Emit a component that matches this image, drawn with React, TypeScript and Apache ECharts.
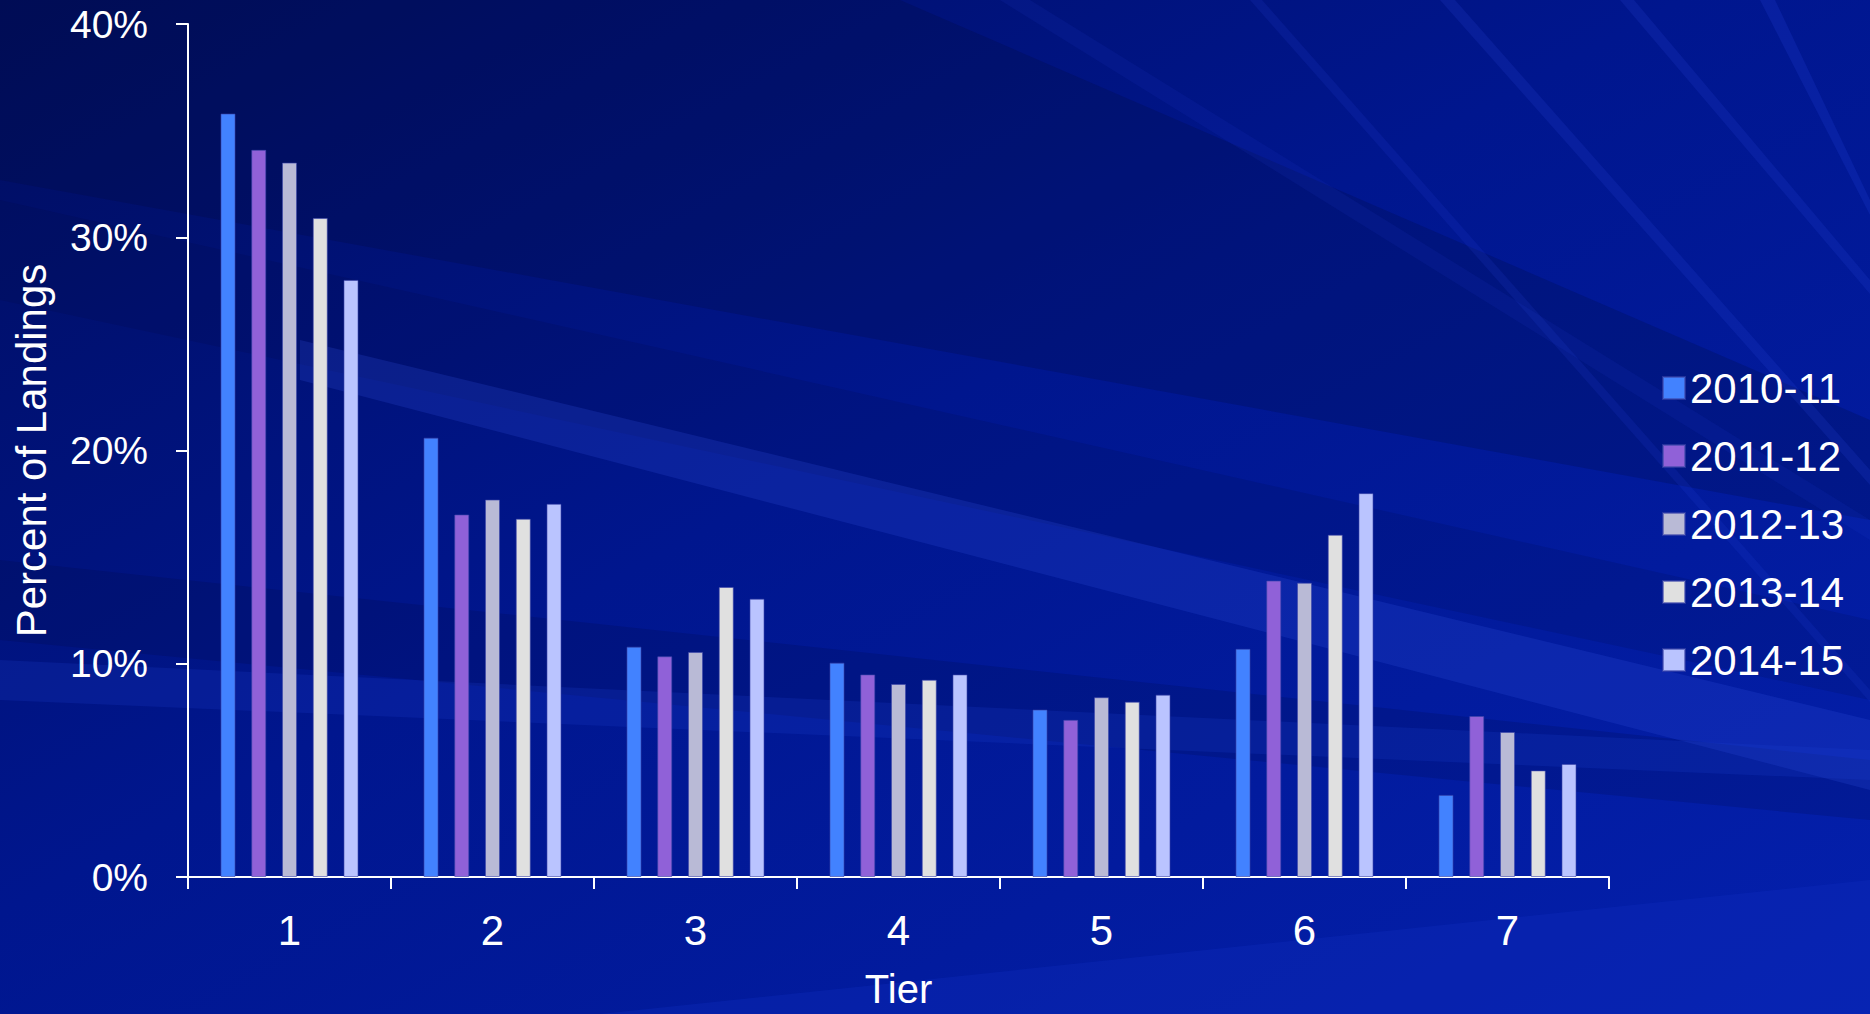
import React, { useEffect, useRef } from "react";
import * as echarts from "echarts";

const tiers = ["1", "2", "3", "4", "5", "6", "7"];
const seasons = ["2010-11", "2011-12", "2012-13", "2013-14", "2014-15"];
const colors = ["#4282FF", "#9061D8", "#B9BAD6", "#E0E0E0", "#BAC4FF"];
const v2010_11 = [35.8, 20.6, 10.8, 10.05, 7.85, 10.7, 3.85];
const v2011_12 = [34.1, 17.0, 10.35, 9.5, 7.37, 13.9, 7.55];
const v2012_13 = [33.5, 17.7, 10.55, 9.05, 8.43, 13.8, 6.8];
const v2013_14 = [30.9, 16.8, 13.6, 9.25, 8.22, 16.05, 5.0];
const v2014_15 = [28.0, 17.5, 13.05, 9.5, 8.55, 18.0, 5.3];
const seriesValues = [v2010_11, v2011_12, v2012_13, v2013_14, v2014_15];
const yTicks = [0, 10, 20, 30, 40];

const FONT = "Liberation Sans, Arial, sans-serif";

function band(points: number[][], fill: string, opacity: number) {
  return {
    type: "polygon",
    z: -10,
    silent: true,
    shape: { points },
    style: { fill, opacity },
  };
}

export default function App() {
  const ref = useRef<HTMLDivElement>(null);
  useEffect(() => {
    if (!ref.current) return;
    const chart = echarts.init(ref.current, undefined, { renderer: "svg" });
    const bg = [
      band([[0, 0], [900, 0], [1870, 420], [1870, 520], [0, 180]], "#000830", 0.2),
      band([[0, 200], [0, 300], [1870, 700], [1870, 620]], "#000830", 0.12),
      band([[0, 560], [0, 640], [1870, 820], [1870, 760]], "#000830", 0.15),
      band([[300, 340], [1870, 720], [1870, 790], [300, 380]], "#3050E0", 0.22),
      band([[0, 660], [0, 700], [1870, 780], [1870, 750]], "#2040D0", 0.2),
      band([[600, 1014], [1870, 880], [1870, 1014]], "#1030C0", 0.3),
      band([[1440, 0], [1455, 0], [1870, 470], [1870, 485]], "#2A48E0", 0.18),
      band([[1250, 0], [1262, 0], [1870, 690], [1870, 702]], "#2A48E0", 0.14),
      band([[1620, 0], [1634, 0], [1870, 280], [1870, 294]], "#2A48E0", 0.18),
      band([[1000, 0], [1030, 0], [1870, 520], [1870, 540]], "#2A48E0", 0.1),
      band([[1760, 0], [1775, 0], [1870, 200], [1870, 215]], "#2A48E0", 0.2),
    ];
    chart.setOption({
      animation: false,
      backgroundColor: {
        type: "linear",
        x: 0,
        y: 0,
        x2: 1,
        y2: 1,
        colorStops: [
          { offset: 0, color: "#000D5E" },
          { offset: 0.45, color: "#00168E" },
          { offset: 1, color: "#0420AE" },
        ],
      },
      graphic: bg,
      grid: { left: 188, right: 261, top: 24, bottom: 133, containLabel: false },
      legend: {
        orient: "vertical",
        left: 1657,
        top: 362,
        itemWidth: 22,
        itemHeight: 22,
        itemGap: 26,
        icon: "rect",
        data: seasons,
        textStyle: { color: "#FFFFFF", fontSize: 42, fontFamily: FONT, padding: [0, 0, 0, 0] },
      },
      xAxis: {
        type: "category",
        data: tiers,
        name: "Tier",
        nameLocation: "middle",
        nameGap: 92,
        nameTextStyle: { color: "#FFFFFF", fontSize: 40, fontFamily: FONT },
        axisLine: { lineStyle: { color: "#FFFFFF", width: 2 } },
        axisTick: { show: true, length: 12, lineStyle: { color: "#FFFFFF", width: 2 } },
        axisLabel: { color: "#FFFFFF", fontSize: 42, fontFamily: FONT, margin: 32 },
      },
      yAxis: {
        type: "value",
        min: yTicks[0],
        max: yTicks[yTicks.length - 1],
        interval: 10,
        name: "Percent of Landings",
        nameLocation: "middle",
        nameGap: 136,
        nameTextStyle: { color: "#FFFFFF", fontSize: 42, fontFamily: FONT },
        splitLine: { show: false },
        axisLine: { show: true, lineStyle: { color: "#FFFFFF", width: 2 } },
        axisTick: { show: true, length: 12, lineStyle: { color: "#FFFFFF", width: 2 } },
        axisLabel: {
          color: "#FFFFFF",
          fontSize: 39,
          fontFamily: FONT,
          margin: 40,
          formatter: (v: number) => `${v}%`,
        },
      },
      series: seasons.map((name, i) => ({
        name,
        type: "bar",
        data: seriesValues[i],
        barWidth: 15,
        barGap: "105%",
        itemStyle: {
          color: colors[i],
          borderColor: "rgba(60,70,170,0.6)",
          borderWidth: 1,
        },
      })),
    });
    return () => chart.dispose();
  }, []);
  return (
    <div
      ref={ref}
      style={{ position: "fixed", left: 0, top: 0, width: 1870, height: 1014 }}
    />
  );
}
